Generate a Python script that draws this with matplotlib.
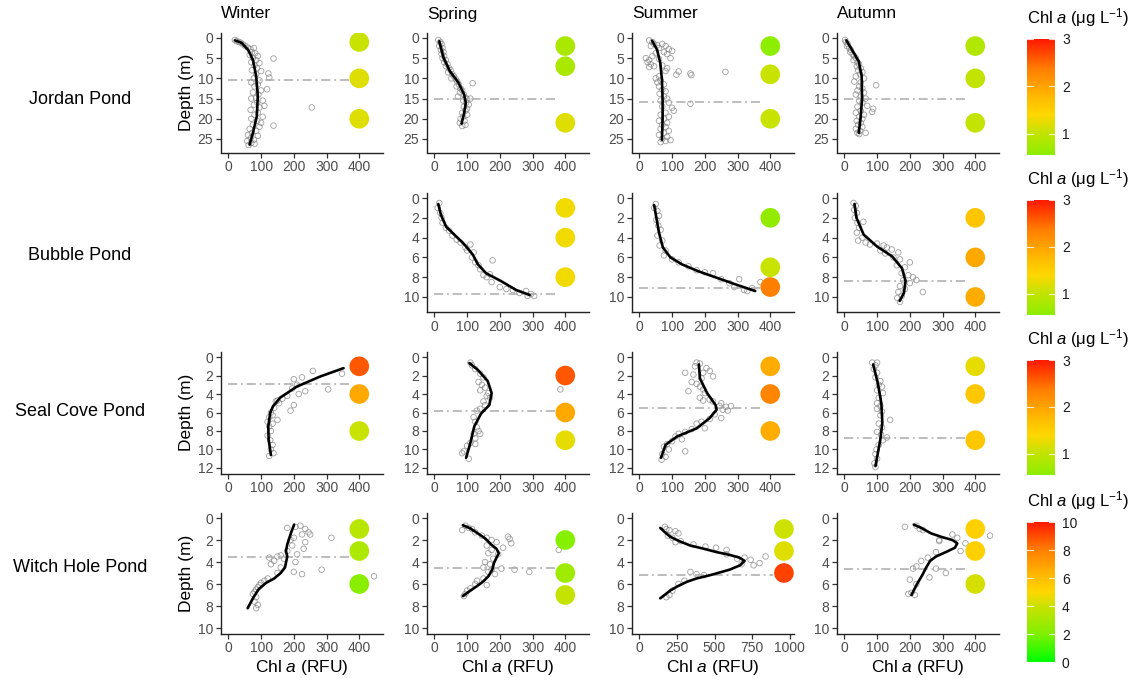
import numpy as np
import matplotlib
matplotlib.use("Agg")
import matplotlib.pyplot as plt
from matplotlib.colors import LinearSegmentedColormap, Normalize

plt.rcParams["font.family"] = ["Liberation Sans", "DejaVu Sans"]
plt.rcParams["mathtext.fontset"] = "custom"
plt.rcParams["mathtext.rm"] = "Liberation Sans"
plt.rcParams["mathtext.it"] = "Liberation Sans:italic"

seasons = ["Winter", "Spring", "Summer", "Autumn"]
ponds = ["Jordan Pond", "Bubble Pond", "Seal Cove Pond", "Witch Hole Pond"]

# ---------------------------------------------------------------------------
# sonde profiles: (Chl a RFU, depth m)
# ---------------------------------------------------------------------------
jordan_winter_obs = [
    (20, 0.5), (25, 0.8), (32, 1.0), (38, 1.2), (45, 1.6), (52, 2.0), (60, 2.4), (68, 2.8),
    (78, 2.5), (72, 3.5), (82, 3.8), (65, 4.2), (90, 4.5), (75, 5.0), (85, 5.5), (70, 6.0),
    (95, 6.2), (80, 6.8), (88, 7.5), (72, 8.0), (100, 8.2), (122, 8.8), (125, 9.8), (85, 9.0),
    (78, 10.0), (95, 10.5), (70, 11.0), (90, 11.5), (80, 12.0), (118, 12.7), (100, 13.0),
    (75, 13.5), (92, 14.0), (85, 14.8), (70, 15.0), (105, 15.5), (88, 16.0), (78, 16.5),
    (110, 16.8), (95, 17.2), (255, 17.2), (68, 17.8), (90, 18.5), (80, 19.0), (105, 19.5),
    (70, 20.0), (88, 20.5), (100, 21.0), (138, 21.7), (75, 21.5), (95, 22.0), (65, 22.5),
    (85, 23.0), (72, 23.5), (60, 24.0), (90, 24.2), (68, 24.8), (78, 25.2), (58, 25.5),
    (70, 26.0), (62, 26.5), (80, 26.2), (138, 5.1),
]
jordan_winter_fit = [(20, 0.6), (40, 1.2), (60, 2.9), (75, 5.4), (85, 9.5), (90, 14.4),
                     (87, 19.4), (75, 23.5), (65, 26.4)]

jordan_spring_obs = [
    (12, 0.5), (18, 1.0), (22, 1.5), (15, 2.0), (25, 2.5), (20, 3.0), (28, 3.5), (22, 4.0),
    (30, 4.5), (25, 5.0), (35, 5.5), (30, 6.0), (40, 6.5), (35, 7.0), (45, 7.5), (50, 8.0),
    (42, 8.5), (55, 9.0), (60, 9.5), (52, 10.0), (65, 10.2), (70, 10.8), (117, 11.2),
    (75, 11.5), (68, 12.0), (80, 12.5), (85, 13.0), (78, 13.5), (90, 14.0), (72, 14.5),
    (95, 14.8), (100, 15.2), (110, 15.0), (88, 15.5), (97, 16.0), (105, 16.5), (90, 17.0),
    (100, 17.5), (95, 18.0), (85, 18.5), (100, 19.0), (88, 19.5), (80, 20.0), (92, 20.5),
    (78, 21.0), (95, 21.5), (85, 21.8),
]
jordan_spring_fit = [(15, 0.8), (28, 4.9), (48, 8.3), (74, 11.1), (91, 14.0), (96, 16.1),
                     (91, 18.6), (83, 21.2)]

jordan_summer_obs = [
    (30, 0.6), (40, 1.0), (45, 1.5), (35, 2.0), (55, 1.8), (70, 1.5), (80, 2.0), (60, 2.5),
    (90, 2.8), (100, 3.2), (75, 3.5), (50, 3.8), (85, 4.0), (40, 4.5), (20, 5.0), (30, 5.5),
    (95, 5.0), (60, 5.2), (25, 6.0), (35, 6.5), (45, 7.0), (30, 7.2), (70, 6.8), (85, 7.5),
    (120, 8.3), (113, 9.1), (156, 8.8), (159, 9.2), (263, 8.4), (80, 8.2), (60, 9.5),
    (50, 10.0), (65, 10.5), (55, 11.0), (75, 11.5), (60, 12.0), (70, 12.8), (80, 13.2),
    (62, 13.8), (75, 14.5), (85, 15.0), (65, 15.5), (90, 16.0), (156, 16.3), (100, 17.3),
    (70, 17.0), (105, 18.0), (80, 18.5), (65, 19.0), (90, 19.5), (75, 20.0), (60, 20.5),
    (85, 21.0), (70, 21.5), (80, 22.0), (65, 22.5), (90, 23.0), (75, 23.5), (60, 24.0),
    (85, 24.5), (70, 25.0), (95, 25.3), (65, 25.8), (80, 25.5),
]
jordan_summer_fit = [(39, 0.7), (54, 2.9), (64, 6.2), (69, 10.3), (71, 15.3), (71, 20.0),
                     (69, 25.2)]

jordan_autumn_obs = [
    (2, 0.5), (5, 1.0), (10, 1.5), (8, 2.0), (15, 2.5), (20, 3.0), (18, 3.5), (25, 4.0),
    (30, 4.5), (35, 5.0), (28, 5.5), (40, 6.0), (45, 6.5), (38, 7.0), (50, 7.5), (42, 8.0),
    (55, 8.5), (48, 9.0), (35, 9.5), (60, 10.0), (30, 10.8), (50, 11.0), (97, 11.7),
    (45, 12.0), (55, 12.5), (40, 13.0), (60, 13.5), (35, 14.0), (50, 14.5), (65, 15.0),
    (45, 15.5), (55, 16.0), (70, 16.8), (40, 17.0), (88, 17.5), (85, 18.3), (50, 18.0),
    (35, 18.5), (60, 19.0), (45, 19.5), (55, 20.0), (38, 20.5), (50, 21.0), (42, 21.5),
    (55, 22.0), (35, 22.5), (48, 23.0), (40, 23.5), (65, 23.5), (45, 23.8),
]
jordan_autumn_fit = [(6, 0.6), (23, 2.9), (44, 5.8), (53, 9.5), (54, 15.3), (49, 20.2),
                     (44, 23.5)]

bubble_spring_obs = [
    (15, 0.5), (10, 1.0), (18, 1.5), (22, 2.0), (25, 2.5), (35, 3.0), (45, 3.3), (55, 3.8),
    (68, 4.2), (80, 4.5), (95, 5.0), (110, 4.7), (100, 5.3), (120, 5.5), (115, 6.0),
    (125, 6.5), (135, 6.8), (140, 7.2), (178, 6.3), (150, 7.8), (170, 7.7), (160, 8.0),
    (175, 8.5), (200, 9.0), (220, 9.2), (240, 9.3), (260, 9.6), (280, 9.4), (295, 9.7),
    (305, 9.9), (285, 9.9),
]
bubble_spring_fit = [(12, 0.6), (20, 1.7), (36, 2.9), (61, 3.7), (92, 4.7), (117, 5.7),
                     (133, 6.7), (158, 7.6), (204, 8.4), (250, 9.3), (291, 9.8)]

bubble_summer_obs = [
    (50, 0.6), (45, 1.0), (55, 1.3), (60, 1.8), (52, 2.2), (58, 2.8), (65, 3.2), (55, 3.8),
    (70, 4.3), (62, 4.8), (80, 5.3), (75, 5.8), (100, 6.2), (120, 6.5), (150, 6.9),
    (175, 7.3), (200, 7.5), (225, 7.6), (250, 8.2), (275, 8.6), (305, 8.2), (290, 9.0),
    (320, 9.3), (345, 9.1), (330, 9.4), (370, 8.5),
]
bubble_summer_fit = [(45, 0.7), (52, 2.0), (60, 3.5), (72, 5.0), (95, 6.0), (130, 6.7),
                     (180, 7.4), (240, 8.1), (300, 8.8), (354, 9.4)]

bubble_autumn_obs = [
    (28, 0.5), (35, 0.8), (30, 1.2), (38, 1.5), (32, 2.0), (40, 2.5), (58, 2.4), (45, 3.0),
    (38, 3.5), (55, 4.0), (42, 4.3), (65, 4.5), (78, 4.7), (100, 4.6), (120, 4.8),
    (130, 5.0), (110, 5.3), (145, 5.2), (125, 5.6), (165, 5.5), (150, 6.0), (170, 6.2),
    (200, 6.5), (160, 6.8), (185, 7.0), (175, 7.6), (195, 7.8), (210, 8.0), (180, 8.3),
    (220, 8.3), (200, 8.6), (170, 8.9), (185, 9.2), (165, 9.5), (240, 9.5), (175, 9.9),
    (162, 10.1), (170, 10.5),
]
bubble_autumn_fit = [(31, 0.6), (37, 2.0), (59, 3.7), (100, 4.9), (146, 5.9), (176, 7.1),
                     (187, 8.4), (182, 9.6), (169, 10.4)]

seal_winter_obs = [
    (347, 1.8), (258, 1.5), (305, 3.5), (235, 3.7), (200, 2.4), (225, 2.2), (210, 3.0),
    (215, 4.0), (195, 3.4), (180, 4.2), (165, 4.5), (150, 4.7), (155, 5.0), (145, 4.8),
    (200, 5.2), (190, 5.8), (140, 5.5), (130, 6.0), (135, 6.3), (125, 6.5), (150, 6.8),
    (120, 7.0), (135, 7.2), (125, 7.5), (130, 8.0), (120, 8.5), (128, 9.0), (135, 9.5),
    (130, 10.0), (138, 10.4), (125, 10.7),
]
seal_winter_fit = [(352, 1.2), (281, 2.1), (209, 3.2), (158, 4.4), (137, 5.3), (128, 6.0),
                   (122, 7.5), (123, 8.9), (130, 10.6)]

seal_spring_obs = [
    (110, 0.6), (115, 0.9), (125, 1.3), (140, 1.8), (150, 2.2), (135, 2.7), (145, 3.0),
    (155, 3.3), (140, 3.6), (165, 3.9), (160, 4.2), (170, 4.4), (150, 4.8), (155, 5.2),
    (140, 5.6), (130, 5.8), (385, 3.5), (120, 6.5), (125, 7.0), (130, 7.6), (135, 8.0),
    (120, 8.3), (140, 8.3), (125, 8.8), (110, 9.3), (125, 9.4), (100, 9.6), (90, 10.2),
    (85, 10.4), (105, 11.0),
]
seal_spring_fit = [(107, 0.65), (133, 1.4), (163, 2.6), (175, 3.9), (168, 5.2), (143, 6.1),
                   (122, 7.5), (110, 9.3), (97, 10.9)]

seal_summer_obs = [
    (175, 0.6), (185, 0.7), (170, 1.0), (205, 1.2), (215, 1.5), (195, 1.7), (140, 1.7),
    (165, 1.9), (225, 2.1), (190, 2.3), (160, 2.7), (175, 2.9), (185, 3.2), (195, 3.5),
    (150, 3.7), (200, 3.9), (185, 4.4), (215, 4.6), (195, 4.7), (225, 4.8), (250, 5.0),
    (245, 5.3), (265, 5.4), (280, 5.3), (270, 5.8), (255, 5.7), (250, 6.6), (230, 6.2),
    (215, 6.7), (190, 7.0), (175, 7.2), (200, 7.7), (160, 7.8), (140, 8.1), (120, 8.3),
    (110, 8.6), (130, 8.9), (100, 9.1), (85, 9.4), (75, 9.7), (90, 10.0), (140, 10.2),
    (70, 10.5), (80, 10.8), (68, 11.1),
]
seal_summer_fit = [(182, 0.8), (185, 2.3), (207, 3.9), (233, 5.2), (236, 5.7), (215, 6.6),
                   (176, 7.7), (115, 8.6), (80, 9.5), (66, 10.9)]

seal_autumn_obs = [
    (85, 0.6), (100, 0.6), (95, 0.9), (90, 1.3), (100, 1.7), (95, 2.2), (110, 2.6),
    (105, 3.0), (115, 3.2), (100, 3.6), (118, 3.9), (105, 4.4), (100, 5.0), (110, 5.3),
    (100, 5.6), (115, 5.9), (110, 6.3), (140, 6.8), (105, 7.2), (115, 7.6), (100, 8.1),
    (112, 8.4), (130, 8.7), (118, 9.0), (105, 9.5), (98, 10.0), (95, 10.5), (100, 11.0),
    (92, 11.5), (95, 11.9),
]
seal_autumn_fit = [(88, 0.8), (102, 2.8), (113, 5.0), (116, 7.1), (110, 8.9), (95, 11.8)]

witch_winter_obs = [
    (220, 0.7), (205, 0.8), (180, 0.9), (235, 1.0), (245, 1.3), (225, 1.5), (250, 1.5),
    (315, 1.8), (200, 1.8), (235, 2.2), (190, 2.0), (230, 2.8), (195, 2.5), (180, 3.0),
    (210, 3.3), (160, 3.4), (150, 3.5), (125, 3.6), (170, 3.7), (140, 3.9), (205, 4.0),
    (130, 4.2), (285, 4.7), (160, 4.5), (200, 4.9), (225, 5.1), (445, 5.3), (150, 5.0),
    (120, 5.5), (110, 5.7), (100, 5.9), (95, 6.1), (90, 6.3), (85, 6.5), (80, 6.7),
    (75, 6.9), (85, 7.2), (80, 7.6), (90, 7.9), (85, 8.2),
]
witch_winter_fit = [(201, 0.6), (192, 1.3), (180, 2.4), (176, 3.0), (180, 3.5), (173, 4.5),
                    (160, 5.0), (140, 5.5), (115, 5.9), (92, 6.5), (75, 7.3), (59, 8.2)]

witch_spring_obs = [
    (85, 1.1), (95, 0.7), (105, 0.9), (115, 1.0), (125, 1.3), (145, 1.6), (160, 1.8),
    (175, 2.0), (225, 1.7), (230, 1.9), (235, 2.3), (190, 2.2), (160, 2.5), (210, 2.7),
    (175, 2.9), (380, 2.9), (165, 3.2), (195, 3.3), (180, 3.7), (155, 4.0), (170, 4.2),
    (150, 4.5), (175, 4.7), (165, 4.9), (245, 4.7), (290, 4.9), (205, 4.6), (185, 5.1),
    (150, 5.5), (160, 6.1), (130, 5.7), (125, 6.0), (110, 6.4), (100, 6.6), (95, 6.9),
    (90, 7.1),
]
witch_spring_fit = [(87, 0.65), (110, 0.95), (133, 1.4), (155, 1.85), (173, 2.4),
                    (190, 2.8), (197, 3.2), (190, 3.6), (182, 4.1), (177, 4.7), (165, 5.3),
                    (148, 5.8), (130, 6.2), (110, 6.6), (87, 7.1)]

witch_summer_obs = [
    (170, 0.8), (180, 1.0), (200, 1.1), (240, 1.2), (260, 1.4), (190, 1.6), (220, 1.8),
    (275, 2.1), (240, 2.2), (360, 2.4), (440, 2.6), (510, 2.7), (580, 2.9), (580, 3.3),
    (650, 3.7), (700, 3.6), (740, 3.8), (760, 4.3), (800, 4.1), (840, 3.5), (680, 4.2),
    (340, 4.9), (380, 5.1), (430, 5.2), (300, 5.7), (260, 6.0), (220, 6.6), (180, 7.2),
    (200, 7.0),
]
witch_summer_fit = [(139, 0.9), (170, 1.3), (205, 1.7), (265, 2.1), (338, 2.5), (430, 2.8),
                    (514, 3.1), (600, 3.35), (665, 3.6), (700, 3.9), (670, 4.3), (600, 4.7),
                    (470, 5.2), (380, 5.5), (316, 5.8), (255, 6.2), (205, 6.6), (139, 7.3)]

witch_autumn_obs = [
    (185, 0.8), (220, 0.7), (230, 1.0), (240, 1.1), (330, 1.5), (345, 1.8), (370, 2.3),
    (355, 3.0), (445, 1.6), (290, 2.0), (290, 2.1), (280, 3.1), (255, 3.6), (235, 3.9),
    (220, 4.4), (210, 4.6), (280, 4.6), (310, 5.0), (260, 5.4), (200, 5.6), (205, 6.8),
    (215, 7.0), (220, 6.0), (195, 6.9),
]
witch_autumn_fit = [(212, 0.6), (235, 0.9), (265, 1.4), (300, 1.75), (330, 2.0), (345, 2.3),
                    (338, 2.7), (310, 3.1), (280, 3.5), (262, 3.9), (250, 4.5), (238, 5.2),
                    (222, 6.0), (205, 7.0)]

# thermocline depth (m), one per season (None = no winter profile)
jordan_thermo = [10.5, 15.1, 15.9, 15.2]
bubble_thermo = [None, 9.7, 9.1, 8.4]
seal_thermo = [2.9, 5.8, 5.5, 8.8]
witch_thermo = [3.5, 4.5, 5.2, 4.65]

# discrete samples: depth (m) and extracted Chl a (ug/L)
jordan_disc_depth = [[1, 10, 20], [2, 7, 21], [2, 9, 20], [2, 10, 21]]
jordan_disc_chl = [[1.05, 1.2, 1.2], [0.8, 0.8, 1.2], [0.55, 1.05, 1.05], [0.85, 1.0, 1.0]]
bubble_disc_depth = [None, [1, 4, 8], [2, 7, 9], [2, 6, 10]]
bubble_disc_chl = [None, [1.3, 1.3, 1.3], [0.6, 1.05, 2.35], [1.65, 1.95, 1.9]]
seal_disc_depth = [[1, 4, 8], [2, 6, 9], [1, 4, 8], [1, 4, 9]]
seal_disc_chl = [[2.6, 1.95, 1.05], [2.6, 1.95, 1.25], [1.9, 2.3, 1.9], [1.25, 1.6, 1.6]]
witch_disc_depth = [[1, 3, 6], [2, 5, 7], [1, 3, 5], [1, 3, 6]]
witch_disc_chl = [[3.5, 3.2, 2.3], [2.2, 2.8, 3.8], [4.0, 4.4, 9.2], [5.3, 5.3, 4.2]]

obs = [
    [jordan_winter_obs, jordan_spring_obs, jordan_summer_obs, jordan_autumn_obs],
    [None, bubble_spring_obs, bubble_summer_obs, bubble_autumn_obs],
    [seal_winter_obs, seal_spring_obs, seal_summer_obs, seal_autumn_obs],
    [witch_winter_obs, witch_spring_obs, witch_summer_obs, witch_autumn_obs],
]
fits = [
    [jordan_winter_fit, jordan_spring_fit, jordan_summer_fit, jordan_autumn_fit],
    [None, bubble_spring_fit, bubble_summer_fit, bubble_autumn_fit],
    [seal_winter_fit, seal_spring_fit, seal_summer_fit, seal_autumn_fit],
    [witch_winter_fit, witch_spring_fit, witch_summer_fit, witch_autumn_fit],
]
thermo = [jordan_thermo, bubble_thermo, seal_thermo, witch_thermo]
disc_depth = [jordan_disc_depth, bubble_disc_depth, seal_disc_depth, witch_disc_depth]
disc_chl = [jordan_disc_chl, bubble_disc_chl, seal_disc_chl, witch_disc_chl]

# ---------------------------------------------------------------------------
# layout (pixels)
# ---------------------------------------------------------------------------
W, H = 1140, 678
fig = plt.figure(figsize=(W / 100, H / 100), dpi=100)


def px_axes(left, top, width, height):
    return fig.add_axes([left / W, 1 - (top + height) / H, width / W, height / H])


cmap = LinearSegmentedColormap.from_list(
    "chl", [(0, "#00FF00"), (0.2, "#80F000"), (0.4, "#CCE200"), (0.5, "#FFD700"),
            (0.6, "#FFBF00"), (0.8, "#FF8000"), (1.0, "#FF1A00")])
norms = [Normalize(-0.2, 3.0)] * 3 + [Normalize(0, 10)]

col_left = [221, 427, 632, 837]
col_w = 162
row_top = [32.5, 192.6, 351.5, 512.5]
row_h = [120, 119.7, 122, 121]
row_label_y = [100, 255, 411, 567]
row_ylim = [(28.35, -1.35), (11.55, -0.55), (12.6, -0.6), (10.5, -0.5)]
row_yticks = [range(0, 26, 5), range(0, 11, 2), range(0, 13, 2), range(0, 11, 2)]

for r in range(4):
    for c in range(4):
        if obs[r][c] is None:
            continue
        wide = (r == 3 and c == 2)
        ax = px_axes(col_left[c], row_top[r], col_w, row_h[r])
        o = np.array(obs[r][c])
        f = np.array(fits[r][c])
        xdisc = 962 if wide else 400
        xend = 890 if wide else 375
        ax.scatter(o[:, 0], o[:, 1], s=16, facecolors="none", edgecolors="#7f7f7f",
                   linewidths=0.6, alpha=0.75, zorder=2)
        ax.plot([0, xend], [thermo[r][c]] * 2, color="#ababab", lw=1.1,
                linestyle=(0, (6, 2.5, 1.2, 2.5)), zorder=3)
        ax.plot(f[:, 0], f[:, 1], color="black", lw=1.9, zorder=4,
                solid_capstyle="round", solid_joinstyle="round")
        dd = disc_depth[r][c]
        ax.scatter([xdisc] * len(dd), dd, c=disc_chl[r][c], cmap=cmap, norm=norms[r],
                   s=200, linewidths=0, zorder=5)
        if wide:
            ax.set_xlim(-49, 1029)
            ax.set_xticks([0, 250, 500, 750, 1000])
        else:
            ax.set_xlim(-22.5, 472.5)
            ax.set_xticks([0, 100, 200, 300, 400])
        ax.set_ylim(*row_ylim[r])
        ax.set_yticks(list(row_yticks[r]))
        for s in ["top", "right"]:
            ax.spines[s].set_visible(False)
        for s in ["left", "bottom"]:
            ax.spines[s].set_color("#222222")
            ax.spines[s].set_linewidth(1.0)
        ax.tick_params(length=3.5, width=0.9, color="#333333", labelcolor="#4d4d4d",
                       labelsize=10, pad=2)
        if c == 0:
            ax.set_ylabel("Depth (m)", fontsize=12.5, labelpad=3)
        if r == 3:
            ax.set_xlabel("Chl $\\it{a}$ (RFU)", fontsize=12.5, labelpad=2)

# season titles and pond names
for c, s in enumerate(seasons):
    fig.text(col_left[c] / W, 1 - 14 / H, s, fontsize=12.5, ha="left", va="center")
for r, p in enumerate(ponds):
    fig.text(80 / W, 1 - row_label_y[r] / H, p, fontsize=13, ha="center", va="center")

# colour bars
cbar_top = [39, 200, 360, 522]
cbar_bot = [155, 315, 475, 662]
cbar_range = [(0.55, 3.0), (0.55, 3.0), (0.55, 3.0), (0.0, 10.0)]
cbar_ticks = [[1, 2, 3], [1, 2, 3], [1, 2, 3], [0, 2, 4, 6, 8, 10]]
for i in range(4):
    lo, hi = cbar_range[i]
    cax = px_axes(1027, cbar_top[i], 28, cbar_bot[i] - cbar_top[i])
    cax.imshow(np.linspace(lo, hi, 256)[:, None], aspect="auto", origin="lower",
               extent=[0, 1, lo, hi], cmap=cmap, norm=norms[i])
    cax.set_xlim(0, 1)
    cax.set_ylim(lo, hi)
    cax.set_xticks([])
    cax.yaxis.tick_right()
    cax.set_yticks(cbar_ticks[i])
    cax.tick_params(axis="y", length=0, labelsize=10, labelcolor="#1a1a1a", pad=5)
    for t in cbar_ticks[i]:
        cax.plot([0, 0.2], [t, t], color="white", lw=0.8, alpha=0.8)
        cax.plot([0.8, 1], [t, t], color="white", lw=0.8, alpha=0.8)
    for s in cax.spines.values():
        s.set_visible(False)
    fig.text(1027 / W, 1 - (cbar_top[i] - 21) / H, "Chl $\\it{a}$ (μg L$^{-1}$)",
             fontsize=12, ha="left", va="center")

fig.savefig("out.png", dpi=100)
